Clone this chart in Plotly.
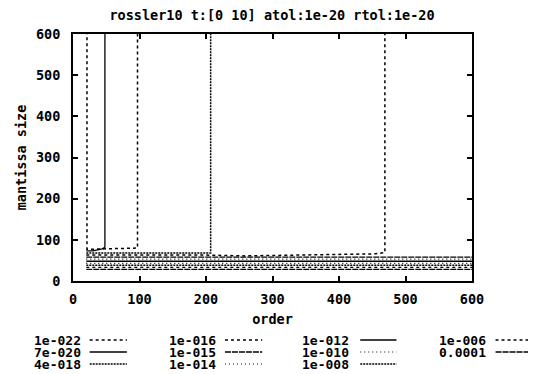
import plotly.graph_objects as go

# ---- data ----
names = ["1e-022", "7e-020", "4e-018", "1e-016", "1e-015", "1e-014",
         "1e-012", "1e-010", "1e-008", "1e-006", "0.0001"]

order_1e22 = [21, 21, 97, 97]
size_1e22 = [1000, 77, 80, 1000]

order_7e20 = [20, 30, 44, 48, 48]
size_7e20 = [73, 73, 78, 82, 1000]

order_4e18 = [20, 207, 207]
size_4e18 = [68, 68, 1000]

order_1e16 = [20, 200, 260, 455, 469, 469]
size_1e16 = [63, 63, 61, 66, 69, 1000]

order_1e15 = [20, 600]
size_1e15 = [58, 58]
order_1e14 = [20, 600]
size_1e14 = [53, 53]
order_1e12 = [20, 600]
size_1e12 = [48, 48]
order_1e10 = [20, 600]
size_1e10 = [43, 43]
order_1e08 = [20, 600]
size_1e08 = [38, 38]
order_1e06 = [20, 600]
size_1e06 = [33, 33]
order_1e04 = [20, 600]
size_1e04 = [28, 28]

orders = [order_1e22, order_7e20, order_4e18, order_1e16, order_1e15, order_1e14,
          order_1e12, order_1e10, order_1e08, order_1e06, order_1e04]
sizes = [size_1e22, size_7e20, size_4e18, size_1e16, size_1e15, size_1e14,
         size_1e12, size_1e10, size_1e08, size_1e06, size_1e04]

x_ticks = [0, 100, 200, 300, 400, 500, 600]
y_ticks = [0, 100, 200, 300, 400, 500, 600]

# ---- styles ----
dashes = ["dot", "solid", "2px,1px", "dot", "6px,1px", "1px,3px",
          "solid", "1px,3px", "2px,1px", "dot", "6px,1px"]
widths = [1.5, 1.3, 1.5, 1.5, 1.3, 1.2, 1.3, 1.2, 1.5, 1.3, 1.3]

FONT = "DejaVu Sans Mono"
OFF = 8  # page body margin
W, H = 536 - OFF, 374 - OFF
# plot area in window pixels: x 65..472, y 34..281
L = 65 - OFF
R = W - (472 - OFF)
T = 34 - OFF
B = H - (281 - OFF)
pw = W - L - R
ph = H - T - B

def px_x(p):
    return (p - OFF - L) / pw

def px_y(p):
    return (H - B - (p - OFF)) / ph

fig = go.Figure()
for n, xs, ys, d, w in zip(names, orders, sizes, dashes, widths):
    fig.add_trace(go.Scatter(x=xs, y=ys, mode="lines", name=n,
                             line=dict(color="black", width=w, dash=d),
                             showlegend=False))

# manual legend: text then line sample, 4 columns, column-major
col_text_right = [74, 212, 348, 487]
col_line = [(82, 120), (220, 258), (358, 395), (496, 533)]
row_y = [340, 352, 364]

for i, n in enumerate(names):
    c, r = divmod(i, 3)
    fig.add_annotation(x=px_x(col_text_right[c]), y=px_y(row_y[r]), xref="paper", yref="paper",
                       text=n, showarrow=False, xanchor="right", yanchor="middle",
                       borderpad=0,
                       font=dict(family=FONT, size=13, color="black", weight="bold"))
    x0, x1 = col_line[c]
    fig.add_shape(type="line", xref="paper", yref="paper",
                  x0=px_x(x0), x1=px_x(x1), y0=px_y(row_y[r]), y1=px_y(row_y[r]),
                  line=dict(color="black", width=widths[i], dash=dashes[i]))

axis_common = dict(showline=True, linecolor="black", linewidth=2, mirror="ticks",
                   ticks="inside", ticklen=5, tickwidth=1.5, tickcolor="black",
                   showgrid=False, zeroline=False,
                   tickfont=dict(family=FONT, size=13.5, color="black", weight="bold"))

fig.update_layout(
    width=W, height=H,
    margin=dict(l=L, r=R, t=T, b=B),
    paper_bgcolor="white", plot_bgcolor="white",
    title=dict(text="rossler10 t:[0 10] atol:1e-20 rtol:1e-20", x=px_x(268), xref="paper",
               xanchor="center", y=1 - (15.5 - OFF) / H, yanchor="middle",
               font=dict(family=FONT, size=13.5, color="black", weight="bold")),
    xaxis=dict(range=[0, 600], tickvals=x_ticks, ticklabelstandoff=5,
               title=dict(text="order", standoff=8,
                          font=dict(family=FONT, size=13.5, color="black", weight="bold")),
               **axis_common),
    yaxis=dict(range=[0, 600], tickvals=y_ticks, ticklabelstandoff=8,
               title=dict(text="mantissa size", standoff=6,
                          font=dict(family=FONT, size=13.5, color="black", weight="bold")),
               **axis_common),
)

fig.write_html("out.html")
